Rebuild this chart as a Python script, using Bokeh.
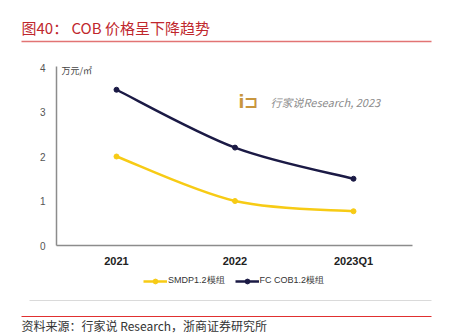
from bokeh.plotting import figure
from bokeh.models import (Range1d, FixedTicker, LinearAxis, Legend, LegendItem,
                          ColumnDataSource)
from bokeh.core.properties import value
from bokeh.embed import file_html
from bokeh.resources import INLINE

# ---- data ----
categories = ["2021", "2022", "2023Q1"]
smdp = [2.0, 1.0, 0.77]
fc_cob = [3.5, 2.2, 1.5]
y_ticks = [0, 1, 2, 3, 4]
series_names = ["SMDP1.2模组", "FC COB1.2模组"]
title_text = "图40：  COB 价格呈下降趋势"
source_text = "资料来源：行家说 Research，浙商证券研究所"
unit_text = "万元/㎡"
watermark_text = "行家说Research, 2023"

YELLOW = "#F7CB15"
NAVY = "#1B1A45"
RED = "#C0272D"

W, H = 453, 335
X0PX, XSTEP = 116, 118.5      # pixel of first category, pixels per category
Y0PX, YSTEP = 245, 44.5       # pixel of y=0, pixels per unit


def dx(px):
    return (px - X0PX) / XSTEP


def dy(py):
    return (Y0PX - py) / YSTEP


p = figure(width=W, height=H, output_backend="svg", toolbar_location=None,
           x_range=Range1d(dx(0), dx(W)), y_range=Range1d(dy(H), dy(0)),
           x_axis_location=None, y_axis_location=None, min_border=0)
p.outline_line_color = None
p.grid.visible = False

xs = list(range(len(categories)))

xaxis = LinearAxis(fixed_location=0, bounds=(dx(56), dx(412)),
                   ticker=FixedTicker(ticks=xs),
                   major_label_overrides={i: c for i, c in enumerate(categories)},
                   major_label_text_font="Liberation Sans",
                   major_label_text_font_style="bold",
                   major_label_text_font_size="11px",
                   major_label_text_color="#222222",
                   major_label_standoff=3)
yaxis = LinearAxis(fixed_location=dx(56), bounds=(0, dy(66)),
                   ticker=FixedTicker(ticks=y_ticks),
                   major_label_text_font="Liberation Sans",
                   major_label_text_font_size="10px",
                   major_label_text_color="#555555",
                   major_label_standoff=5)
for ax in (xaxis, yaxis):
    ax.major_tick_line_color = None
    ax.minor_tick_line_color = None
    ax.axis_line_color = "#8C8C8C"
    ax.axis_line_width = 1.5
p.add_layout(xaxis, "below")
p.add_layout(yaxis, "left")


def smooth(vals):
    n = len(vals)
    pts = list(zip(xs, vals))
    out = dict(x0=[], y0=[], x1=[], y1=[], cx0=[], cy0=[], cx1=[], cy1=[])
    for i in range(n - 1):
        p0 = pts[i - 1] if i > 0 else pts[i]
        p1, p2 = pts[i], pts[i + 1]
        p3 = pts[i + 2] if i + 2 < n else pts[i + 1]
        out["x0"].append(p1[0]); out["y0"].append(p1[1])
        out["x1"].append(p2[0]); out["y1"].append(p2[1])
        out["cx0"].append(p1[0] + (p2[0] - p0[0]) / 6)
        out["cy0"].append(p1[1] + (p2[1] - p0[1]) / 6)
        out["cx1"].append(p2[0] - (p3[0] - p1[0]) / 6)
        out["cy1"].append(p2[1] - (p3[1] - p1[1]) / 6)
    return ColumnDataSource(out)


items = []
for vals, col, name in ((smdp, YELLOW, series_names[0]), (fc_cob, NAVY, series_names[1])):
    p.bezier(x0="x0", y0="y0", x1="x1", y1="y1", cx0="cx0", cy0="cy0",
             cx1="cx1", cy1="cy1", source=smooth(vals), line_color=col, line_width=2.5)
    sc = p.scatter(xs, vals, size=5, color=col)
    # off-canvas line used only for the legend swatch
    ln_leg = p.line([dx(-50), dx(-40)], [dy(-50), dy(-50)], line_color=col, line_width=2.5)
    items.append(LegendItem(label=name, renderers=[ln_leg, sc]))

legend = Legend(items=items, orientation="horizontal", location=(143, H - 287),
                label_text_font="Liberation Sans", label_text_font_size="9px",
                label_text_color="#333333", glyph_width=24, glyph_height=12,
                label_height=12, spacing=10, padding=0, margin=0,
                border_line_color=None, label_standoff=1, background_fill_alpha=0)
p.add_layout(legend)

# unit label and watermark
p.text(x=[dx(61)], y=[dy(70)], text=[unit_text], text_font=value("Noto Sans CJK SC"),
       text_font_size="9px", text_color="#444444", text_baseline="middle")
p.text(x=[dx(238)], y=[dy(101)], text=["i⊐"], text_font=value("DejaVu Sans"),
       text_font_style="bold", text_font_size="17px", text_color="#C8963E",
       text_baseline="middle")
p.text(x=[dx(270)], y=[dy(101)], text=[watermark_text], text_font=value("Noto Sans CJK SC"),
       text_font_style="italic", text_font_size="11px", text_color="#8C8C8C",
       text_baseline="middle")

# title, rules, source
p.text(x=[dx(21)], y=[dy(27)], text=[title_text], text_font=value("Noto Sans CJK SC"),
       text_font_size="15px", text_color=RED, text_baseline="middle")
p.segment(x0=[dx(21)], y0=[dy(41)], x1=[dx(431)], y1=[dy(41)],
          line_color="#E27474", line_width=1.5)
p.segment(x0=[dx(29)], y0=[dy(300)], x1=[dx(431)], y1=[dy(300)],
          line_color="#DADADA", line_width=1)
p.segment(x0=[dx(21)], y0=[dy(316)], x1=[dx(431)], y1=[dy(316)],
          line_color="#E03030", line_width=1)
p.text(x=[dx(21)], y=[dy(325)], text=[source_text], text_font=value("Noto Sans CJK SC"),
       text_font_size="12px", text_color="#333333", text_baseline="middle")

open("out.html", "w").write(file_html(p, INLINE))
